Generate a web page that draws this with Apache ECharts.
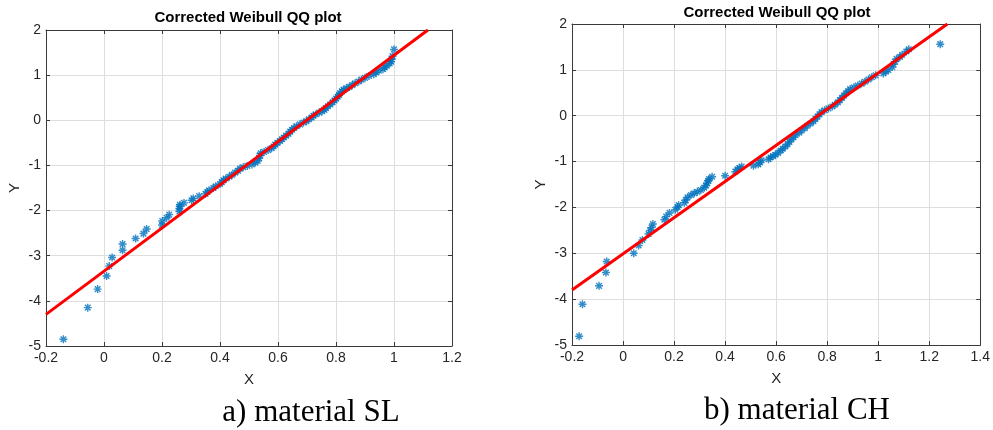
<!DOCTYPE html>
<html>
<head>
<meta charset="utf-8">
<script src="https://cdn.jsdelivr.net/npm/echarts@6/dist/echarts.min.js"></script>
<style>
html,body{margin:0;padding:0;background:#fff;}
#c{width:993px;height:430px;}
</style>
</head>
<body>
<div id="c"></div>
<script>
// ---- data ----
var titleText = 'Corrected Weibull QQ plot';
var captionA = 'a) material SL';
var captionB = 'b) material CH';
var xTicksA = { min: -0.2, max: 1.2, step: 0.2 };
var xTicksB = { min: -0.2, max: 1.4, step: 0.2 };
var yTicks = { min: -5, max: 2, step: 1 };

// material SL: [X, Y]
var pointsSL = [
  [-0.140,-4.85],[-0.056,-4.15],[-0.022,-3.74],[0.009,-3.45],[0.018,-3.23],[0.028,-3.04],
  [0.064,-2.88],[0.064,-2.74],[0.109,-2.62],[0.136,-2.51],[0.147,-2.41],[0.200,-2.32],
  [0.201,-2.23],[0.216,-2.16],[0.225,-2.09],[0.260,-2.02],[0.260,-1.96],[0.261,-1.91],
  [0.262,-1.87],[0.276,-1.83],[0.302,-1.77],[0.308,-1.73],[0.328,-1.68],[0.350,-1.63],
  [0.356,-1.59],[0.362,-1.55],[0.377,-1.50],[0.385,-1.46],[0.400,-1.41],[0.406,-1.37],
  [0.412,-1.33],[0.420,-1.29],[0.432,-1.25],[0.441,-1.21],[0.452,-1.16],[0.462,-1.12],
  [0.469,-1.07],[0.480,-1.04],[0.494,-1.01],[0.510,-0.98],[0.521,-0.94],[0.530,-0.90],
  [0.535,-0.84],[0.538,-0.78],[0.540,-0.73],[0.552,-0.70],[0.566,-0.66],[0.578,-0.62],
  [0.585,-0.58],[0.590,-0.54],[0.598,-0.50],[0.607,-0.46],[0.614,-0.42],[0.620,-0.38],
  [0.628,-0.34],[0.636,-0.30],[0.642,-0.25],[0.648,-0.21],[0.655,-0.17],[0.664,-0.13],
  [0.676,-0.09],[0.688,-0.05],[0.698,-0.02],[0.706,0.02],[0.716,0.06],[0.722,0.10],
  [0.730,0.13],[0.742,0.17],[0.752,0.20],[0.760,0.23],[0.765,0.27],[0.772,0.31],
  [0.780,0.35],[0.788,0.40],[0.795,0.44],[0.800,0.48],[0.806,0.52],[0.810,0.56],
  [0.814,0.60],[0.820,0.64],[0.826,0.68],[0.836,0.71],[0.846,0.74],[0.856,0.78],
  [0.866,0.82],[0.878,0.86],[0.888,0.90],[0.900,0.94],[0.914,0.98],[0.930,1.02],
  [0.938,1.06],[0.948,1.10],[0.962,1.13],[0.968,1.17],[0.975,1.21],[0.985,1.26],
  [0.990,1.30],[0.992,1.35],[0.995,1.42],[1.000,1.57]
];
var fitSL = [[-0.2,-4.30],[1.117,2.00]];

// material CH: [X, Y]
var pointsCH = [
  [-0.172,-4.81],[-0.159,-4.11],[-0.094,-3.71],[-0.067,-3.42],[-0.064,-3.18],[0.042,-3.00],
  [0.061,-2.83],[0.076,-2.71],[0.100,-2.58],[0.106,-2.50],[0.112,-2.44],[0.117,-2.36],
  [0.162,-2.27],[0.169,-2.20],[0.182,-2.12],[0.205,-2.05],[0.214,-1.99],[0.218,-1.95],
  [0.240,-1.90],[0.246,-1.84],[0.253,-1.78],[0.266,-1.73],[0.279,-1.69],[0.291,-1.66],
  [0.305,-1.62],[0.318,-1.57],[0.325,-1.52],[0.330,-1.47],[0.334,-1.42],[0.337,-1.38],
  [0.349,-1.33],[0.400,-1.31],[0.440,-1.22],[0.448,-1.17],[0.456,-1.14],[0.465,-1.11],
  [0.511,-1.09],[0.530,-1.06],[0.537,-1.02],[0.543,-0.97],[0.570,-0.95],[0.578,-0.91],
  [0.588,-0.88],[0.597,-0.85],[0.608,-0.81],[0.618,-0.76],[0.626,-0.72],[0.636,-0.67],
  [0.645,-0.62],[0.652,-0.57],[0.660,-0.52],[0.668,-0.47],[0.676,-0.42],[0.690,-0.37],
  [0.700,-0.32],[0.712,-0.27],[0.722,-0.22],[0.735,-0.17],[0.746,-0.12],[0.754,-0.07],
  [0.762,-0.02],[0.770,0.03],[0.778,0.08],[0.790,0.12],[0.805,0.16],[0.820,0.20],
  [0.830,0.24],[0.842,0.29],[0.850,0.34],[0.858,0.39],[0.866,0.44],[0.874,0.49],
  [0.882,0.54],[0.890,0.58],[0.905,0.62],[0.920,0.66],[0.935,0.70],[0.948,0.74],
  [0.962,0.79],[0.975,0.84],[0.990,0.88],[1.020,0.92],[1.030,0.96],[1.040,1.00],
  [1.055,1.06],[1.060,1.12],[1.066,1.18],[1.072,1.24],[1.085,1.28],[1.094,1.33],
  [1.110,1.40],[1.120,1.45],[1.243,1.56]
];
var fitCH = [[-0.2,-3.80],[1.271,2.00]];

// ---- styling ----
var AX = '#3a3a3a', TXT = '#262626', GRIDC = '#dedede';
var BLUE = '#0072BD', RED = '#ff0000';
var STAR = 'path://M-0.9,-5L0.9,-5L0.9,5L-0.9,5Z' +
  'M-5,-0.9L5,-0.9L5,0.9L-5,0.9Z' +
  'M-2.86,-4.14L4.14,2.86L2.86,4.14L-4.14,-2.86Z' +
  'M-4.14,2.86L2.86,-4.14L4.14,-2.86L-2.86,4.14Z';
var FONT = 'Liberation Sans, Arial, Helvetica, sans-serif';

function xAx(gi, r, main) {
  return {
    type: 'value', gridIndex: gi, min: r.min, max: r.max, interval: r.step,
    position: main ? 'bottom' : 'top',
    name: main ? 'X' : '', nameLocation: 'middle', nameGap: 26,
    nameTextStyle: { color: TXT, fontSize: 15, fontFamily: FONT },
    axisLine: { show: true, onZero: false, lineStyle: { color: AX, width: 1 } },
    axisTick: { show: true, inside: true, length: 4, lineStyle: { color: AX } },
    axisLabel: { show: main, color: TXT, fontSize: 14, fontFamily: FONT, margin: 5,
      formatter: function (v) { return String(Math.round(v * 10) / 10); } },
    splitLine: { show: main, lineStyle: { color: GRIDC, width: 1 } }
  };
}
function yAx(gi, main) {
  return {
    type: 'value', gridIndex: gi, min: yTicks.min, max: yTicks.max, interval: yTicks.step,
    position: main ? 'left' : 'right',
    name: main ? 'Y' : '', nameLocation: 'middle', nameGap: 24,
    nameTextStyle: { color: TXT, fontSize: 15, fontFamily: FONT },
    axisLine: { show: true, onZero: false, lineStyle: { color: AX, width: 1 } },
    axisTick: { show: true, inside: true, length: 4, lineStyle: { color: AX } },
    axisLabel: { show: main, color: TXT, fontSize: 14, fontFamily: FONT, margin: 5 },
    splitLine: { show: main, lineStyle: { color: GRIDC, width: 1 } }
  };
}

var chart = echarts.init(document.getElementById('c'), null, { renderer: 'canvas' });
chart.setOption({
  animation: false,
  backgroundColor: '#ffffff',
  grid: [
    { left: 46, top: 30, width: 406, height: 316 },
    { left: 572, top: 24, width: 412, height: 321 }
  ],
  xAxis: [xAx(0, xTicksA, true), xAx(0, xTicksA, false), xAx(1, xTicksB, true), xAx(1, xTicksB, false)],
  yAxis: [yAx(0, true), yAx(0, false), yAx(1, true), yAx(1, false)],
  series: [
    { type: 'scatter', xAxisIndex: 0, yAxisIndex: 0, data: pointsSL, symbol: STAR, symbolSize: 8,
      itemStyle: { color: BLUE }, z: 2 },
    { type: 'line', xAxisIndex: 0, yAxisIndex: 0, data: fitSL, symbol: 'none',
      lineStyle: { color: RED, width: 3 }, z: 3 },
    { type: 'scatter', xAxisIndex: 2, yAxisIndex: 2, data: pointsCH, symbol: STAR, symbolSize: 8,
      itemStyle: { color: BLUE }, z: 2 },
    { type: 'line', xAxisIndex: 2, yAxisIndex: 2, data: fitCH, symbol: 'none',
      lineStyle: { color: RED, width: 3 }, z: 3 }
  ],
  graphic: [
    { type: 'text', x: 248, y: 18, style: { text: titleText, fill: '#000', font: 'bold 15px ' + FONT, textAlign: 'center', textVerticalAlign: 'middle' } },
    { type: 'text', x: 777, y: 13, style: { text: titleText, fill: '#000', font: 'bold 15px ' + FONT, textAlign: 'center', textVerticalAlign: 'middle' } },
    { type: 'text', x: 311, y: 413, style: { text: captionA, fill: '#000', font: '31px Liberation Serif, Times New Roman, serif', textAlign: 'center', textVerticalAlign: 'middle' } },
    { type: 'text', x: 797, y: 411, style: { text: captionB, fill: '#000', font: '31px Liberation Serif, Times New Roman, serif', textAlign: 'center', textVerticalAlign: 'middle' } }
  ]
});
</script>
</body>
</html>
